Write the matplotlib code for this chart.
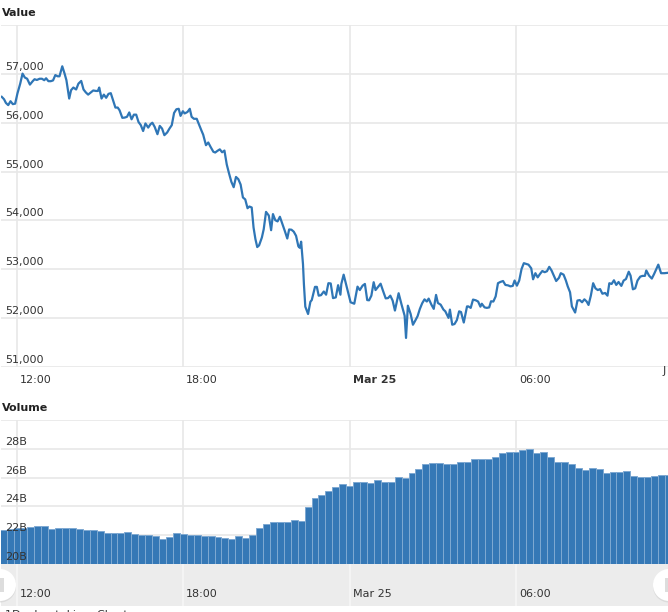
import matplotlib
matplotlib.use('Agg')
import matplotlib.pyplot as plt
from matplotlib.patches import Circle, Rectangle

# minutes counted from 12:00 on Mar 24
line_minutes = [
    -33, -28, -24, -19, -14, -9, -4, 1, 7, 12, 17, 22, 28, 34, 38, 43, 49, 54, 59, 63,
    68, 73, 78, 83, 88, 92, 98, 103, 107, 113, 117, 122, 128, 133, 139, 144, 149, 154, 160, 165,
    171, 175, 178, 183, 188, 193, 198, 203, 208, 213, 218, 222, 228, 233, 238, 243, 248, 253, 258, 263,
    268, 273, 278, 284, 289, 293, 298, 304, 309, 314, 319, 325, 330, 335, 340, 345, 350, 354, 359, 363,
    369, 374, 378, 383, 389, 394, 399, 403, 409, 414, 419, 425, 429, 434, 439, 444, 449, 454, 459, 464,
    469, 474, 479, 484, 489, 494,
    499, 503, 508, 512, 516, 520, 524, 530, 534, 539, 545, 550, 554, 559, 564, 569, 574, 580, 585, 589,
    594, 599, 604, 609, 612, 615, 619, 621, 624, 630, 635, 638, 645, 649, 653, 658, 664, 669, 674, 679,
    684, 690, 695, 700,
    702, 707, 713, 722, 730, 737, 742, 748, 753, 758, 762, 767, 772, 776, 782, 787, 792, 798, 803, 808,
    813, 818, 826, 832, 836, 839, 842, 846, 852, 857, 862, 867, 872, 877, 882, 887, 891, 897, 902, 907,
    911, 917, 923, 927, 934, 937, 942, 947, 952, 957, 961, 967, 974, 977, 982, 987, 993, 998, 1003, 1006,
    1012, 1017, 1022, 1026, 1031, 1036, 1041, 1046, 1052, 1057, 1063, 1068, 1073, 1077, 1082, 1087, 1092, 1097, 1102, 1107,
    1113, 1117, 1122, 1127, 1132, 1137, 1142, 1147, 1152, 1157, 1162, 1167, 1173, 1177, 1183, 1188, 1192, 1197, 1201, 1208,
    1213, 1218, 1223, 1228, 1233, 1237, 1242, 1247, 1252, 1257, 1262, 1267, 1273, 1278, 1282, 1287, 1292, 1297, 1302, 1308,
    1313, 1318, 1324, 1328, 1333, 1338, 1343, 1349, 1354, 1359, 1362, 1368, 1374, 1379, 1388, 1394, 1401, 1411,
]
line_values = [
    56530, 56480, 56405, 56360, 56440, 56380, 56390, 56600, 56800, 57005, 56925, 56900, 56780, 56850, 56890, 56875, 56900, 56900, 56870, 56910,
    56850, 56850, 56865, 56975, 56950, 56950, 57155, 57005, 56870, 56495, 56665, 56720, 56680, 56800, 56855, 56680, 56620, 56575, 56620, 56660,
    56650, 56650, 56720, 56495, 56575, 56510, 56590, 56605, 56460, 56310, 56310, 56255, 56100, 56105, 56120, 56210, 56070, 56165, 56165, 56015,
    55950, 55830, 55985, 55900, 55970, 56000, 55915, 55765, 55935, 55880, 55745, 55800, 55880, 55950, 56200, 56275, 56285, 56140, 56235, 56190,
    56220, 56285, 56120, 56080, 56080, 55960, 55845, 55755, 55540, 55595, 55505, 55405, 55390, 55425, 55455, 55395, 55430, 55145, 54960, 54790,
    54680, 54890, 54845, 54735, 54470, 54430,
    54250, 54285, 54265, 53855, 53620, 53455, 53490, 53650, 53820, 54175, 54100, 53800, 54130, 54005, 53980, 54075, 53940, 53775, 53630, 53815,
    53810, 53770, 53685, 53470, 53440, 53565, 53105, 52695, 52235, 52085, 52335, 52370, 52640, 52640, 52460, 52470, 52545, 52480, 52715, 52710,
    52410, 52425, 52675, 52480,
    52700, 52890, 52665, 52325, 52295, 52645, 52575, 52665, 52700, 52370, 52365, 52460, 52735, 52575, 52645, 52705, 52565, 52405, 52410, 52460,
    52360, 52155, 52510, 52290, 52155, 52050, 51595, 52255, 52085, 51865, 51950, 52040, 52190, 52305, 52385, 52340, 52400, 52275, 52190, 52475,
    52310, 52275, 52175, 52140, 52005, 52175, 51865, 51880, 51960, 52140, 52125, 51910, 52240, 52240, 52210, 52380, 52365, 52340, 52235, 52295,
    52220, 52210, 52220, 52345, 52340, 52445, 52715, 52740, 52760, 52680, 52670, 52650, 52660, 52770, 52665, 52770, 53005, 53125, 53110, 53095,
    53020, 52795, 52920, 52835, 52905, 52965, 52940, 52960, 53050, 52975, 52870, 52760, 52825, 52920, 52890, 52770, 52650, 52530, 52240, 52115,
    52360, 52370, 52325, 52385, 52340, 52270, 52460, 52715, 52610, 52575, 52595, 52500, 52515, 52460, 52715, 52700, 52775, 52680, 52740, 52660,
    52770, 52800, 52950, 52870, 52590, 52610, 52770, 52850, 52865, 52865, 52975, 52870, 52810, 52905, 53095, 52920, 52920, 52930,
]

# 15 minute bars, first one at 11:30, values in billions
volume_values = [
    22.38, 22.40, 22.47, 22.50, 22.57, 22.61, 22.61, 22.40, 22.50, 22.47, 22.52, 22.45, 22.38, 22.34, 22.29, 22.17,
    22.13, 22.15, 22.24, 22.08, 21.99, 21.99, 21.97, 21.76, 21.90, 22.13, 22.10, 21.99, 21.99, 21.97, 21.97, 21.85,
    21.83, 21.73, 21.92, 21.78, 21.99, 22.47, 22.80, 22.89, 22.91, 22.94, 23.03, 23.01, 23.98, 24.58, 24.81, 25.04,
    25.32, 25.53, 25.43, 25.69, 25.71, 25.64, 25.83, 25.71, 25.71, 26.01, 25.99, 26.31, 26.59, 26.96, 26.98, 26.98,
    26.94, 26.94, 27.10, 27.05, 27.26, 27.31, 27.31, 27.45, 27.72, 27.75, 27.79, 27.95, 27.98, 27.72, 27.75, 27.40,
    27.10, 27.10, 26.96, 26.64, 26.54, 26.66, 26.57, 26.29, 26.36, 26.36, 26.47, 26.08, 26.06, 26.06, 26.13, 26.15,
    26.15,
]
volume_minutes = [-30 + 15 * i for i in range(len(volume_values))]

time_ticks = [0, 360, 720, 1080]
time_labels = ['12:00', '18:00', 'Mar 25', '06:00']
value_ticks = [51000, 52000, 53000, 54000, 55000, 56000, 57000, 58000]
volume_ticks = [20, 22, 24, 26, 28, 30]

W, H = 668, 612
XMIN, XMAX = -34.6, 1409
GRID = '#e8e8e8'
BLUE = '#3578b6'
TEXT = '#333333'

plt.rcParams['font.family'] = ['DejaVu Sans']
plt.rcParams['font.size'] = 8.0


def panel(top, bottom):
    # axes placed by pixel rows of the 668x612 picture
    ax = fig.add_axes([1 / W, 1 - bottom / H, (W - 1) / W, (bottom - top) / H])
    ax.set_xlim(XMIN, XMAX)
    for s in ax.spines.values():
        s.set_visible(False)
    ax.tick_params(length=0, labelbottom=False, labelleft=False)
    ax.set_xticks(time_ticks)
    ax.set_axisbelow(True)
    return ax


def y_label(ax, tick, text):
    ax.annotate(text, xy=(0, tick), xycoords=ax.get_yaxis_transform(), xytext=(4, 2),
                textcoords='offset pixels', va='bottom', ha='left', color=TEXT, zorder=6)


def x_labels(ax, row, bold):
    for tick, text in zip(time_ticks, time_labels):
        ax.annotate(text, xy=(tick, 0), xycoords=ax.get_xaxis_transform(), xytext=(3, -row),
                    textcoords='offset pixels', va='center', ha='left', color=TEXT,
                    fontweight='bold' if bold and text == 'Mar 25' else 'normal',
                    annotation_clip=False)


fig = plt.figure(figsize=(W / 100, H / 100), dpi=100, facecolor='white')

# price panel
ax1 = panel(25, 367)
ax1.set_ylim(51000, 58000)
ax1.set_yticks(value_ticks)
ax1.grid(True, color=GRID, lw=1.2)
ax1.plot(line_minutes, line_values, color='#2f76b6', lw=1.6, solid_joinstyle='round', zorder=3)
for v in value_ticks[:-1]:
    y_label(ax1, v, f'{v:,}')
x_labels(ax1, 13, True)

# volume panel
ax2 = panel(420, 564)
ax2.set_ylim(20, 30)
ax2.set_yticks(volume_ticks)
ax2.grid(True, color=GRID, lw=1.2)
ax2.bar(volume_minutes, volume_values, width=15, color=BLUE, edgecolor='#7fa9d2', linewidth=0.7, zorder=3)
for v in volume_ticks[:-1]:
    y_label(ax2, v, f'{v}B')

# navigator strip under the volume bars
ax3 = panel(564, 606)
ax3.set_ylim(0, 1)
ax3.set_facecolor('#ececec')
ax3.grid(True, axis='x', color='#f6f6f6', lw=1.2)
x_labels(ax3, -12, False)

# titles, handles and clipped bits, in pixel rows
top = fig.add_axes([0, 0, 1, 1], zorder=10)
top.set_xlim(0, W)
top.set_ylim(H, 0)
top.axis('off')
top.patch.set_alpha(0)
top.text(2, 13, 'Value', fontweight='bold', color='#222222', va='center')
top.text(2, 408, 'Volume', fontweight='bold', color='#222222', va='center')
top.text(663, 371, 'J', color=TEXT, va='center', clip_on=True)
top.text(5, 615, '1D  about  Line  Chart', color=TEXT, va='center', clip_on=True)
for cx in (0, 669):
    top.add_patch(Circle((cx, 586.5), 16, fc='#d0d0d0', ec='none', alpha=0.6, zorder=4))
    top.add_patch(Circle((cx, 585), 16, fc='white', ec='none', zorder=5))
top.add_patch(Rectangle((0, 578), 4, 14, fc='#dddddd', ec='none', zorder=6))
top.add_patch(Rectangle((665, 578), 3, 14, fc='#dddddd', ec='none', zorder=6))

fig.savefig('out.png', dpi=100)
